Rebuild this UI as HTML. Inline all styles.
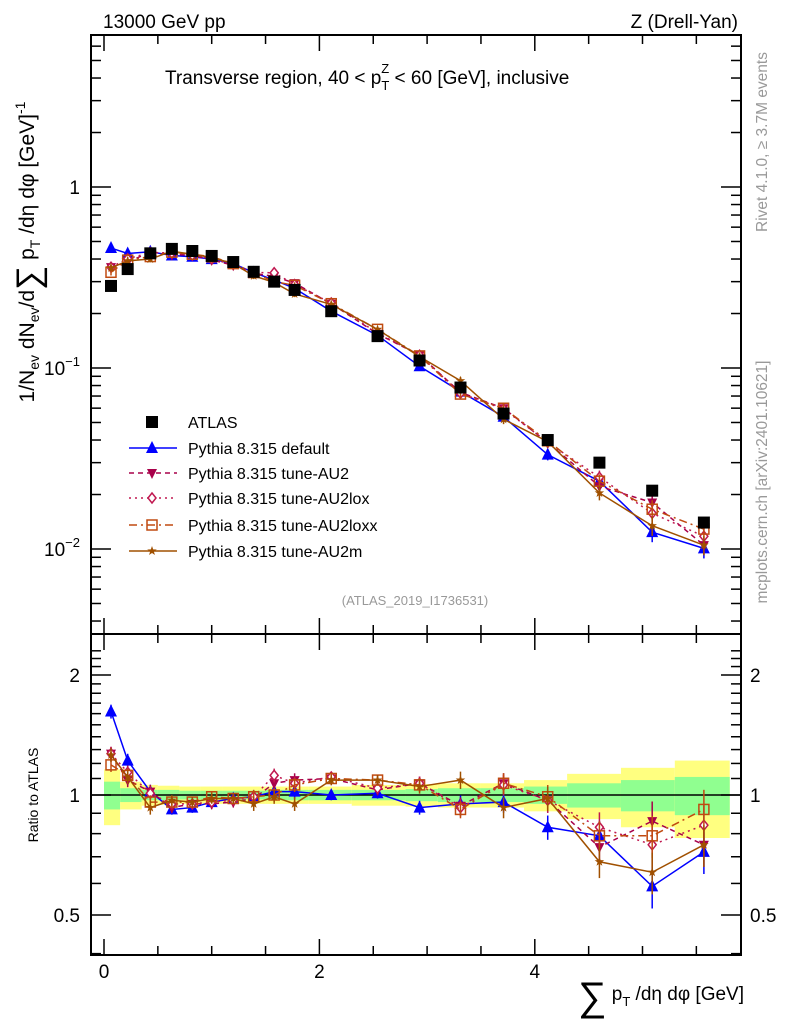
<!DOCTYPE html>
<html><head><meta charset="utf-8"><style>
html,body{margin:0;padding:0;background:#fff;}
svg{display:block;font-family:"Liberation Sans",sans-serif;}
</style></head><body>
<svg id="c" width="786" height="1024" viewBox="0 0 786 1024" xmlns="http://www.w3.org/2000/svg">
<text x="103" y="28" font-size="19">13000 GeV pp</text>
<text x="738" y="28" font-size="19" text-anchor="end">Z (Drell-Yan)</text>
<text x="165" y="84" font-size="19">Transverse region, 40 &lt; p<tspan font-size="13" dy="6">T</tspan><tspan font-size="13" dx="-8" dy="-17">Z</tspan><tspan dy="11"> &lt; 60 [GeV], inclusive</tspan></text>
<text x="415" y="605" font-size="13" fill="#999" text-anchor="middle">(ATLAS_2019_I1736531)</text>
<text transform="translate(767,142) rotate(-90)" font-size="15.5" fill="#999" text-anchor="middle">Rivet 4.1.0, ≥ 3.7M events</text>
<text transform="translate(767,482) rotate(-90)" font-size="15.5" fill="#999" text-anchor="middle">mcplots.cern.ch [arXiv:2401.10621]</text>
<text transform="translate(34,252) rotate(-90)" font-size="21" text-anchor="middle">1/N<tspan font-size="14" dy="5">ev</tspan><tspan dy="-5"> dN</tspan><tspan font-size="14" dy="5">ev</tspan><tspan dy="-5">/d</tspan><tspan font-size="34" dy="6">∑</tspan><tspan dy="-6"> p</tspan><tspan font-size="14" dy="6">T</tspan><tspan dy="-6"> /dη dφ  [GeV]</tspan><tspan font-size="14" dy="-9">-1</tspan></text>
<text transform="translate(38,795) rotate(-90)" font-size="14" text-anchor="middle">Ratio to ATLAS</text>
<text x="744" y="1000" font-size="19" text-anchor="end"><tspan font-size="40" dy="10">∑</tspan><tspan dy="-10"> p</tspan><tspan font-size="13" dy="6">T</tspan><tspan dy="-6"> /dη dφ [GeV]</tspan></text>
<g id="g"></g>
</svg>
<script>
const xCenters=[0.065,0.22,0.43,0.63,0.82,1.0,1.2,1.39,1.58,1.77,2.11,2.54,2.93,3.31,3.71,4.12,4.6,5.09,5.57];
const binEdges=[0,0.15,0.35,0.5,0.7,0.9,1.1,1.3,1.5,1.7,1.9,2.3,2.8,3.1,3.5,3.9,4.3,4.8,5.3,5.81];
const atlas=[0.284,0.352,0.43,0.455,0.443,0.416,0.385,0.34,0.30,0.27,0.206,0.15,0.11,0.078,0.056,0.04,0.03,0.021,0.014];
const bandStat=[0.08,0.04,0.03,0.03,0.025,0.025,0.025,0.025,0.03,0.03,0.03,0.03,0.035,0.04,0.04,0.05,0.07,0.09,0.11];
const bandTot=[0.16,0.08,0.06,0.055,0.05,0.05,0.05,0.05,0.05,0.05,0.05,0.06,0.065,0.07,0.07,0.09,0.13,0.17,0.22];
const rDefault=[1.62,1.22,1.02,0.92,0.93,0.96,0.98,0.99,1.02,1.02,1.0,1.01,0.93,0.95,0.96,0.83,0.79,0.59,0.72];
const rAU2=[1.27,1.09,1.02,0.93,0.95,0.95,0.96,0.98,1.07,1.09,1.10,1.03,1.07,0.94,1.07,0.97,0.74,0.86,0.75];
const rAU2lox=[1.27,1.14,1.01,0.95,0.95,0.96,0.97,0.99,1.12,1.07,1.11,1.04,1.07,0.93,1.06,0.97,0.83,0.75,0.84];
const rAU2loxx=[1.19,1.12,0.96,0.96,0.96,0.99,0.98,0.99,1.0,1.06,1.10,1.09,1.06,0.92,1.07,0.99,0.79,0.79,0.92];
const rAU2m=[1.26,1.11,0.93,0.97,0.96,0.98,0.98,0.95,0.99,0.95,1.09,1.09,1.05,1.09,0.93,0.98,0.68,0.64,0.75];
const mcErr=[0.04,0.04,0.04,0.03,0.03,0.03,0.03,0.04,0.04,0.04,0.03,0.03,0.04,0.05,0.06,0.07,0.09,0.12,0.12];
const yTicks=[1,0.1,0.01];
const yTickLabels=["1","10","10"];
const rTicks=[0.5,1,2];
const xTicks=[0,2,4];

const NS="http://www.w3.org/2000/svg";
const G=document.getElementById('g');
function el(t,a,p){const e=document.createElementNS(NS,t);for(const k in a)e.setAttribute(k,a[k]);(p||G).appendChild(e);return e;}
const L=91,R=741,T=35,MB=634,RB=955;
const X=v=>104+v*107.7;
const Y=v=>187-181*Math.log10(v);
const RY=v=>795-120*Math.log2(v);
const clipR=v=>Math.max(T,Math.min(MB,v));

for(let i=0;i<atlas.length;i++){
 const x0=X(binEdges[i]),x1=X(binEdges[i+1]);
 const b1=el('rect',{x:x0,y:RY(1+bandTot[i]),width:x1-x0,height:RY(1-bandTot[i])-RY(1+bandTot[i]),fill:'#ffff80'});
 
 
 const b2=el('rect',{x:x0,y:RY(1+bandStat[i]),width:x1-x0,height:RY(1-bandStat[i])-RY(1+bandStat[i]),fill:'#90ff90'});
 
 
}
el('line',{x1:L,x2:R,y1:RY(1),y2:RY(1),stroke:'#000','stroke-width':1.5});

el('rect',{x:L,y:T,width:R-L,height:MB-T,fill:'none',stroke:'#000','stroke-width':2});
el('rect',{x:L,y:MB,width:R-L,height:RB-MB,fill:'none',stroke:'#000','stroke-width':2});

for(let v=0;v<=5.8;v+=0.5){
 const maj=Math.abs(v-Math.round(v/2)*2)<1e-6;
 const len=maj?16:9;
 [[T,1],[MB,-1],[MB,1],[RB,-1]].forEach(([y,d])=>el('line',{x1:X(v),x2:X(v),y1:y,y2:y+d*len,stroke:'#000','stroke-width':1.5}));
}
xTicks.forEach(v=>{const t=el('text',{x:X(v),y:978,'font-size':19,'text-anchor':'middle'});t.textContent=v;

});

for(let d=-3;d<=1;d++)for(let m=1;m<=9;m++){const v=m*Math.pow(10,d);const y=Y(v);if(y<T||y>MB)continue;
 const len=m==1?20:10;
 el('line',{x1:L,x2:L+len,y1:y,y2:y,stroke:'#000','stroke-width':1.5});
 el('line',{x1:R,x2:R-len,y1:y,y2:y,stroke:'#000','stroke-width':1.5});}
yTicks.forEach((v,i)=>{const t=el('text',{x:80,y:Y(v)+7,'font-size':19,'text-anchor':'end'});
 t.textContent=yTickLabels[i];
 if(v!==1){const s=el('tspan',{'font-size':13,dy:-9},t);s.textContent=(v===0.1?'−1':'−2');}
 
 });

for(let v=0.4;v<=2.4;v+=0.1){const y=RY(v);if(y<MB||y>RB)continue;
 const maj=[0.5,1,2].some(q=>Math.abs(q-v)<1e-6);const len=maj?20:10;
 el('line',{x1:L,x2:L+len,y1:y,y2:y,stroke:'#000','stroke-width':1.5});
 el('line',{x1:R,x2:R-len,y1:y,y2:y,stroke:'#000','stroke-width':1.5});}
rTicks.forEach(v=>{[[80,'end'],[750,'start']].forEach(([x,a])=>{const t=el('text',{x:x,y:RY(v)+7,'font-size':19,'text-anchor':a});t.textContent=v;
 
 });});

function marker(kind,x,y,c,p){
 if(kind==='sq')return el('rect',{x:x-6,y:y-6,width:12,height:12,fill:'#000'},p);
 if(kind==='up')return el('polygon',{points:`${x},${y-7} ${x-6},${y+5} ${x+6},${y+5}`,fill:c},p);
 if(kind==='dn')return el('polygon',{points:`${x},${y+6} ${x-5},${y-4} ${x+5},${y-4}`,fill:c},p);
 if(kind==='dia')return el('polygon',{points:`${x},${y-5} ${x+4},${y} ${x},${y+5} ${x-4},${y}`,fill:'#fff',stroke:c,'stroke-width':1.5},p);
 if(kind==='osq')return el('rect',{x:x-5,y:y-5,width:10,height:10,fill:'none',stroke:c,'stroke-width':1.5},p);
 if(kind==='star'){let pts=[];for(let k=0;k<10;k++){const r=k%2?2:5;const a=-Math.PI/2+k*Math.PI/5;pts.push((x+r*Math.cos(a))+','+(y+r*Math.sin(a)));}return el('polygon',{points:pts.join(' '),fill:c},p);}
}
const series=[
 {name:'default',r:rDefault,c:'#0000ff',dash:'',m:'up'},
 {name:'au2',r:rAU2,c:'#a8004a',dash:'5,4',m:'dn'},
 {name:'au2lox',r:rAU2lox,c:'#c01850',dash:'2,4',m:'dia'},
 {name:'au2loxx',r:rAU2loxx,c:'#c04a10',dash:'8,4,2,4',m:'osq'},
 {name:'au2m',r:rAU2m,c:'#a05000',dash:'',m:'star'}];

series.forEach(s=>{
 const g1=el('g',{});
 
 
 const mp=xCenters.map((x,i)=>X(x)+','+clipR(Y(atlas[i]*s.r[i]))).join(' ');
 const rp=xCenters.map((x,i)=>X(x)+','+RY(s.r[i])).join(' ');
 el('polyline',{points:mp,fill:'none',stroke:s.c,'stroke-width':1.5,'stroke-dasharray':s.dash},g1);
 el('polyline',{points:rp,fill:'none',stroke:s.c,'stroke-width':1.5,'stroke-dasharray':s.dash},g1);
 xCenters.forEach((x,i)=>{
  const v=atlas[i]*s.r[i],e=mcErr[i];
  el('line',{x1:X(x),x2:X(x),y1:Y(v*(1+e)),y2:Y(v*(1-e)),stroke:s.c,'stroke-width':1.5},g1);
  el('line',{x1:X(x),x2:X(x),y1:RY(s.r[i]*(1+e)),y2:RY(s.r[i]*(1-e)),stroke:s.c,'stroke-width':1.5},g1);
  const m1=marker(s.m,X(x),Y(v),s.c,g1);
  
  
  const m2=marker(s.m,X(x),RY(s.r[i]),s.c,g1);
  
  
 });
});
xCenters.forEach((x,i)=>{const m=marker('sq',X(x),Y(atlas[i]),'#000');
 
 });

const legNames=['ATLAS','Pythia 8.315 default','Pythia 8.315 tune-AU2','Pythia 8.315 tune-AU2lox','Pythia 8.315 tune-AU2loxx','Pythia 8.315 tune-AU2m'];
const legY=[422,448,473,498,525,551];
legNames.forEach((n,i)=>{
 const g1=el('g',{});
 
 
 if(i===0)marker('sq',152,legY[i],'#000',g1);
 else{const s=series[i-1];el('line',{x1:129,x2:177,y1:legY[i],y2:legY[i],stroke:s.c,'stroke-width':1.5,'stroke-dasharray':s.dash},g1);marker(s.m,152,legY[i],s.c,g1);}
 const t=el('text',{x:188,y:legY[i]+6,'font-size':16},g1);t.textContent=n;
});
</script>
</body></html>
